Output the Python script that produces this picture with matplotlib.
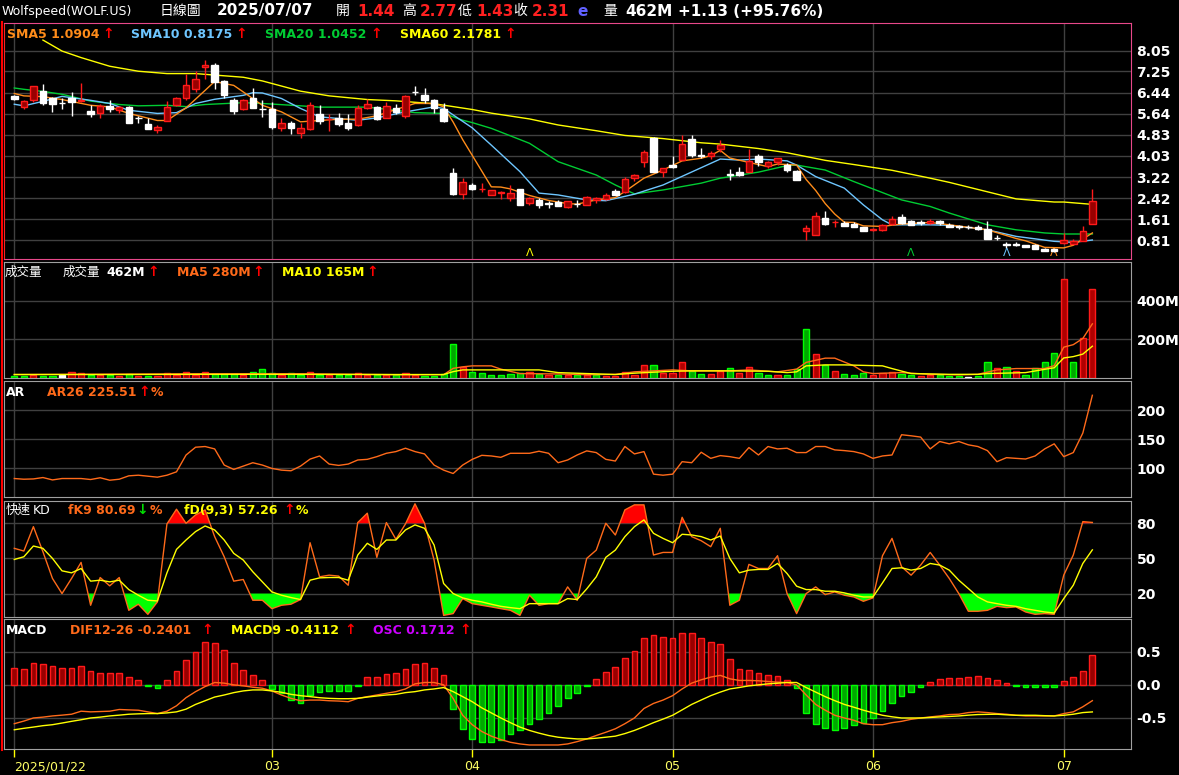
import matplotlib
matplotlib.use("Agg")
import matplotlib.pyplot as plt

plt.rcParams['font.family'] = ['DejaVu Sans', 'Noto Sans CJK TC']

# Daily candles, index 0 = 2025/01/22 ... 113 = 2025/07/07
opens = [6.33, 5.90, 6.17, 6.51, 6.22, 6.04, 6.24, 6.11, 5.76, 5.66,
         5.92, 5.79, 5.90, 5.47, 5.25, 5.03, 5.38, 5.96, 6.23, 6.57,
         7.41, 7.48, 6.87, 6.15, 5.81, 6.22, 5.83, 5.80, 5.09, 5.30,
         4.90, 5.05, 5.63, 5.42, 5.48, 5.27, 5.20, 5.87, 5.90, 5.48,
         5.86, 5.56, 6.48, 6.35, 6.17, 5.83, 3.37, 2.58, 2.92, 2.76,
         2.54, 2.62, 2.42, 2.76, 2.24, 2.35, 2.21, 2.27, 2.09, 2.20,
         2.16, 2.35, 2.39, 2.70, 2.67, 3.20, 3.81, 4.72, 3.41, 3.68,
         3.87, 4.66, 4.05, 4.04, 4.29, 3.31, 3.43, 3.43, 4.01, 3.66,
         3.81, 3.68, 3.47, 1.15, 1.03, 1.66, 1.49, 1.46, 1.43, 1.32,
         1.20, 1.22, 1.44, 1.68, 1.53, 1.48, 1.48, 1.56, 1.40, 1.33,
         1.33, 1.33, 1.23, 0.91, 0.67, 0.65, 0.63, 0.62, 0.49, 0.46,
         0.71, 0.67, 0.80, 1.44]
highs = [6.35, 6.17, 6.70, 6.79, 6.28, 6.22, 6.47, 6.82, 5.99, 6.01,
         6.17, 5.94, 5.94, 5.56, 5.46, 5.20, 6.14, 6.29, 7.15, 7.25,
         7.70, 7.56, 6.91, 6.22, 6.19, 6.62, 6.18, 6.09, 5.48, 5.37,
         5.27, 6.09, 5.96, 5.61, 5.68, 5.61, 5.96, 6.19, 5.92, 6.09,
         6.01, 6.34, 6.70, 6.62, 6.19, 6.04, 3.56, 3.18, 2.99, 2.99,
         2.73, 2.70, 2.91, 2.76, 2.48, 2.42, 2.32, 2.34, 2.32, 2.35,
         2.49, 2.48, 2.63, 2.77, 3.24, 3.33, 4.25, 4.76, 3.58, 4.03,
         4.82, 4.82, 4.34, 4.22, 4.62, 3.52, 3.62, 4.28, 4.09, 3.84,
         3.96, 3.76, 3.49, 1.40, 1.89, 1.92, 1.59, 1.56, 1.49, 1.32,
         1.28, 1.44, 1.72, 1.81, 1.58, 1.59, 1.61, 1.58, 1.47, 1.40,
         1.38, 1.40, 1.53, 1.03, 0.73, 0.73, 0.63, 0.67, 0.52, 0.52,
         1.10, 0.84, 1.34, 2.77]
lows = [6.17, 5.81, 6.09, 5.96, 5.71, 5.81, 5.56, 6.09, 5.52, 5.48,
        5.70, 5.65, 5.27, 5.29, 5.05, 4.89, 5.38, 5.93, 6.18, 6.47,
        6.98, 6.57, 6.22, 5.62, 5.77, 5.84, 5.51, 5.05, 4.97, 4.85,
        4.73, 5.01, 5.23, 4.97, 5.18, 5.01, 5.18, 5.81, 5.39, 5.46,
        5.63, 5.46, 6.34, 6.06, 5.68, 5.33, 2.54, 2.39, 2.73, 2.65,
        2.54, 2.39, 2.32, 2.16, 2.16, 2.04, 2.04, 2.10, 2.06, 2.08,
        2.14, 2.23, 2.35, 2.52, 2.61, 3.08, 3.62, 3.41, 3.24, 3.56,
        3.87, 4.00, 3.94, 3.91, 4.19, 3.11, 3.27, 3.41, 3.66, 3.58,
        3.68, 3.41, 3.11, 0.81, 1.00, 1.40, 1.32, 1.34, 1.32, 1.18,
        1.15, 1.18, 1.40, 1.43, 1.38, 1.38, 1.43, 1.40, 1.30, 1.25,
        1.25, 1.21, 0.85, 0.81, 0.52, 0.58, 0.57, 0.47, 0.39, 0.37,
        0.68, 0.65, 0.77, 1.43]
closes = [6.19, 6.13, 6.70, 6.06, 6.01, 6.03, 6.09, 6.16, 5.62, 5.94,
          5.80, 5.89, 5.30, 5.46, 5.05, 5.14, 5.91, 6.22, 6.73, 6.96,
          7.51, 6.85, 6.34, 5.73, 6.18, 5.87, 5.80, 5.15, 5.29, 5.11,
          5.08, 5.96, 5.38, 5.44, 5.23, 5.08, 5.87, 6.01, 5.43, 5.94,
          5.71, 6.32, 6.46, 6.15, 5.86, 5.38, 2.58, 3.05, 2.77, 2.78,
          2.71, 2.64, 2.61, 2.16, 2.44, 2.16, 2.19, 2.13, 2.29, 2.18,
          2.48, 2.44, 2.52, 2.54, 3.14, 3.30, 4.16, 3.43, 3.56, 3.61,
          4.47, 4.06, 4.03, 4.13, 4.44, 3.30, 3.30, 3.84, 3.81, 3.81,
          3.94, 3.49, 3.11, 1.28, 1.72, 1.44, 1.51, 1.37, 1.32, 1.18,
          1.23, 1.40, 1.61, 1.47, 1.40, 1.47, 1.56, 1.48, 1.33, 1.32,
          1.31, 1.24, 0.87, 0.89, 0.62, 0.64, 0.57, 0.49, 0.42, 0.39,
          0.82, 0.77, 1.18, 2.31]

# moving averages (index, value)
sma5_x = [0, 1, 3, 5, 8, 10, 12, 15, 16, 18, 20, 21, 22, 23, 24, 26, 28, 30, 32, 34,
          36, 38, 40, 42, 44, 45, 46, 47, 48, 49, 50, 51, 52, 54, 56, 58, 59, 61, 63, 64,
          66, 68, 70, 72, 73, 74, 75, 77, 79, 80, 82, 83, 84, 85, 86, 87, 88, 89, 91, 93,
          96, 98, 102, 105, 106, 108, 110, 111, 113]
sma5_y = [6.41, 6.32, 6.29, 6.18, 5.96, 5.90, 5.65, 5.38, 5.38, 5.86, 6.53, 6.87, 6.79, 6.72, 6.47, 5.96, 5.71, 5.33, 5.38, 5.43,
          5.43, 5.56, 5.80, 6.03, 6.03, 5.90, 5.32, 4.65, 4.05, 3.45, 2.85, 2.84, 2.77, 2.52, 2.33, 2.21, 2.19, 2.35, 2.44, 2.67,
          3.18, 3.49, 3.84, 3.94, 4.04, 4.24, 3.95, 3.78, 3.62, 3.72, 3.68, 3.13, 2.71, 2.21, 1.81, 1.50, 1.49, 1.36, 1.34, 1.43,
          1.49, 1.40, 1.21, 0.88, 0.79, 0.54, 0.52, 0.62, 1.09]
sma10_x = [0, 1, 3, 5, 8, 10, 12, 15, 17, 19, 21, 24, 25, 26, 28, 30, 32, 36, 38, 41,
           44, 45, 48, 50, 53, 55, 57, 60, 62, 65, 68, 72, 74, 76, 78, 81, 82, 84, 87, 89,
           91, 92, 96, 98, 102, 105, 109, 111, 113]
sma10_y = [6.00, 5.94, 6.11, 6.30, 6.15, 6.03, 5.77, 5.65, 5.68, 6.03, 6.19, 6.34, 6.44, 6.43, 6.22, 5.84, 5.52, 5.39, 5.48, 5.71,
           5.90, 5.84, 5.10, 4.44, 3.43, 2.61, 2.54, 2.35, 2.32, 2.57, 2.92, 3.58, 3.91, 3.87, 3.91, 3.84, 3.68, 3.24, 2.80, 2.16,
           1.59, 1.40, 1.40, 1.38, 1.21, 0.96, 0.77, 0.73, 0.82]
sma20_x = [0, 1, 3, 5, 8, 11, 13, 16, 18, 20, 24, 26, 30, 32, 37, 39, 42, 45, 47, 48,
           50, 54, 57, 61, 63, 65, 68, 72, 74, 78, 81, 82, 85, 88, 90, 93, 96, 98, 102, 105,
           108, 110, 113]
sma20_y = [6.62, 6.57, 6.49, 6.38, 6.12, 5.99, 5.94, 5.96, 5.91, 5.99, 6.06, 6.03, 5.94, 5.89, 5.89, 5.81, 5.68, 5.65, 5.39, 5.30,
           5.08, 4.51, 3.81, 3.30, 2.92, 2.58, 2.73, 2.99, 3.18, 3.41, 3.66, 3.68, 3.49, 3.05, 2.77, 2.35, 2.10, 1.85, 1.40, 1.21,
           1.09, 1.05, 1.05]
sma60_x = [3, 5, 7, 10, 13, 16, 19, 24, 26, 30, 33, 37, 40, 44, 48, 50, 54, 57, 61, 64,
           68, 72, 74, 78, 81, 85, 88, 92, 96, 98, 102, 105, 109, 110, 113]
sma60_y = [8.45, 8.03, 7.78, 7.45, 7.26, 7.17, 7.17, 7.03, 6.89, 6.50, 6.32, 6.18, 6.13, 6.02, 5.80, 5.66, 5.44, 5.21, 4.99, 4.81,
           4.69, 4.53, 4.48, 4.31, 4.15, 3.86, 3.70, 3.48, 3.18, 3.02, 2.66, 2.39, 2.27, 2.27, 2.18]

# signal marks at the bottom of the price panel
mark_idx = [54, 94, 104, 109]
mark_col = ['#ffff00', '#00cc33', '#6ec6ff', '#ff8c1a']

# volume in millions, r = up, g = down, w = flat
vol_m = [10, 10, 16, 10, 10, 14, 32, 26, 14, 16, 14, 12, 21, 12, 12, 12, 28, 14, 32, 14,
         32, 19, 19, 19, 16, 32, 47, 25, 16, 25, 16, 30, 16, 14, 16, 16, 26, 16, 14, 14,
         14, 26, 16, 12, 12, 23, 179, 58, 32, 26, 16, 16, 21, 26, 32, 19, 16, 16, 16, 14,
         16, 14, 12, 12, 32, 14, 70, 70, 28, 28, 81, 35, 21, 21, 35, 53, 28, 58, 28, 16,
         16, 16, 46, 253, 126, 67, 37, 21, 16, 28, 16, 26, 32, 23, 16, 12, 16, 14, 10, 10,
         7, 12, 81, 53, 58, 37, 16, 53, 81, 132, 516, 84, 210, 462]
vol_dir = ("ggrggwrrgr" "grgrgrrrrr" "rgggrgggrg" "grgrggrrgr" "grrggggrgg"
           "ggggrgrgrg" "rgrrrrrgrr" "rggrrgrrgg" "rgggrgrggg" "rrrggrrggg"
           "wggrgrgggg" "rgrr")
vma5_x = [0, 10, 20, 30, 40, 45, 46, 47, 48, 50, 51, 53, 57, 60, 63, 65, 69, 71, 75, 77,
          80, 82, 83, 85, 86, 88, 89, 90, 93, 96, 99, 101, 103, 105, 108, 109, 110, 111, 112, 113]
vma5_y = [18, 20, 22, 22, 17, 17, 50, 58, 63, 63, 46, 23, 21, 17, 19, 32, 42, 37, 37, 42,
          32, 46, 81, 103, 103, 63, 32, 23, 28, 19, 16, 19, 42, 49, 49, 64, 160, 173, 205, 281]
vma10_x = [0, 10, 20, 30, 40, 45, 46, 47, 55, 57, 60, 63, 65, 69, 71, 75, 79, 81, 82, 83,
           85, 87, 91, 92, 94, 98, 101, 102, 106, 108, 109, 110, 111, 112, 113]
vma10_y = [18, 18, 19, 19, 18, 18, 33, 42, 42, 28, 23, 18, 25, 35, 37, 37, 35, 28, 32, 63,
           68, 68, 63, 49, 23, 19, 19, 23, 28, 45, 53, 104, 111, 124, 165]

ar26 = [82.7, 81.5, 82.0, 84.4, 80.3, 82.7, 82.7, 82.7, 81.0, 84.0,
        79.8, 81.5, 87.3, 88.4, 86.7, 85.0, 88.4, 94.2, 123.0, 136.4,
        137.6, 133.5, 105.8, 98.3, 104.0, 109.8, 105.8, 100.0, 97.1, 96.0,
        104.0, 116.0, 121.4, 107.5, 105.2, 107.5, 114.5, 115.6, 120.2, 126.0,
        128.9, 134.7, 128.9, 124.9, 105.8, 97.1, 91.3, 105.8, 115.6, 122.5,
        121.4, 119.1, 126.0, 126.0, 126.0, 129.5, 126.0, 109.8, 114.5, 123.1,
        130.1, 127.2, 115.6, 112.7, 137.6, 124.9, 128.9, 90.2, 88.4, 90.2,
        111.6, 109.8, 127.8, 117.3, 122.0, 120.2, 117.3, 135.8, 123.1, 137.6,
        133.5, 134.7, 127.2, 127.2, 137.6, 137.6, 131.8, 130.6, 128.9, 124.9,
        117.3, 121.4, 123.1, 157.8, 156.0, 153.8, 133.5, 146.2, 142.2, 146.2,
        140.5, 137.6, 130.6, 111.6, 118.5, 117.3, 116.2, 121.4, 133.5, 142.2,
        120.2, 127.2, 160.7, 225.5]

fk9 = [58.6, 56.3, 77.1, 55.7, 32.9, 20.0, 32.9, 46.6, 10.0, 33.7,
       26.6, 33.7, 5.7, 10.9, 2.3, 12.9, 79.4, 92.0, 80.0, 87.1,
       91.4, 68.6, 51.4, 30.6, 32.0, 14.3, 14.3, 7.1, 10.0, 10.9,
       14.9, 63.4, 34.3, 35.7, 34.9, 27.1, 80.6, 88.6, 50.9, 80.6,
       66.3, 79.4, 96.6, 80.0, 48.6, 1.4, 2.9, 15.7, 11.4, 10.0,
       8.6, 7.1, 5.7, 1.4, 18.6, 10.0, 11.4, 11.4, 25.7, 14.3,
       50.0, 57.1, 80.0, 70.0, 91.4, 95.7, 95.7, 52.9, 55.1, 55.1,
       85.1, 68.6, 65.1, 60.0, 75.7, 10.0, 14.3, 44.9, 41.4, 41.4,
       52.3, 20.0, 2.9, 20.0, 25.7, 19.1, 21.4, 18.6, 17.1, 13.4,
       16.3, 52.3, 67.1, 42.9, 35.7, 44.3, 55.1, 44.3, 32.9, 20.0,
       4.9, 4.9, 5.7, 9.1, 8.0, 8.6, 4.3, 2.3, 2.9, 2.3,
       35.7, 52.9, 81.4, 80.7]
fd93 = [49.1, 51.4, 60.6, 58.6, 50.0, 39.4, 37.7, 41.4, 30.6, 31.4,
        30.0, 31.4, 23.4, 18.6, 14.3, 13.7, 37.7, 57.7, 65.7, 72.9,
        77.7, 74.3, 65.7, 54.3, 48.6, 38.6, 30.0, 21.4, 18.6, 16.6,
        14.9, 31.4, 33.4, 33.7, 33.7, 31.4, 52.9, 62.9, 57.7, 65.7,
        65.7, 74.3, 78.6, 75.7, 61.4, 28.6, 20.0, 16.3, 14.3, 12.9,
        10.9, 9.1, 8.0, 7.1, 11.4, 11.4, 11.4, 11.4, 15.7, 14.9,
        24.0, 34.3, 50.9, 57.1, 68.6, 77.1, 82.9, 71.4, 67.1, 63.4,
        70.6, 70.0, 68.6, 65.7, 69.1, 50.0, 37.7, 40.0, 40.6, 40.6,
        45.7, 37.1, 26.3, 23.4, 23.4, 22.0, 22.0, 20.6, 18.6, 17.1,
        17.1, 29.1, 41.4, 42.0, 40.0, 41.4, 45.7, 44.3, 40.0, 31.4,
        24.3, 17.1, 12.9, 11.4, 10.0, 9.1, 7.1, 5.7, 4.3, 3.4,
        15.7, 27.1, 45.7, 57.3]

dif = [-0.590, -0.550, -0.503, -0.490, -0.472, -0.460, -0.446, -0.400, -0.410, -0.405,
       -0.400, -0.374, -0.380, -0.385, -0.410, -0.436, -0.400, -0.318, -0.195, -0.103,
       -0.026, 0.036, 0.026, 0.000, -0.015, -0.036, -0.051, -0.092, -0.154, -0.205,
       -0.241, -0.231, -0.231, -0.241, -0.246, -0.256, -0.205, -0.179, -0.154, -0.128,
       -0.103, -0.062, 0.015, 0.036, 0.036, 0.000, -0.205, -0.462, -0.605, -0.708,
       -0.779, -0.831, -0.872, -0.897, -0.913, -0.913, -0.913, -0.913, -0.897, -0.862,
       -0.821, -0.769, -0.720, -0.667, -0.590, -0.503, -0.359, -0.282, -0.231, -0.164,
       -0.062, 0.026, 0.077, 0.118, 0.144, 0.092, 0.067, 0.067, 0.062, 0.051,
       0.041, 0.036, 0.000, -0.154, -0.297, -0.385, -0.462, -0.503, -0.538, -0.590,
       -0.605, -0.605, -0.574, -0.554, -0.523, -0.503, -0.487, -0.472, -0.451, -0.446,
       -0.421, -0.410, -0.421, -0.436, -0.446, -0.462, -0.472, -0.472, -0.472, -0.472,
       -0.436, -0.410, -0.333, -0.240]
macd9 = [-0.682, -0.660, -0.641, -0.620, -0.605, -0.580, -0.554, -0.530, -0.503, -0.490,
         -0.472, -0.460, -0.446, -0.440, -0.436, -0.436, -0.426, -0.410, -0.369, -0.297,
         -0.241, -0.185, -0.154, -0.118, -0.092, -0.077, -0.077, -0.092, -0.113, -0.144,
         -0.164, -0.179, -0.195, -0.205, -0.210, -0.210, -0.205, -0.185, -0.169, -0.154,
         -0.144, -0.118, -0.103, -0.077, -0.062, -0.041, -0.103, -0.179, -0.256, -0.349,
         -0.426, -0.503, -0.574, -0.641, -0.692, -0.733, -0.769, -0.795, -0.810, -0.821,
         -0.821, -0.810, -0.795, -0.779, -0.740, -0.692, -0.635, -0.574, -0.520, -0.462,
         -0.380, -0.297, -0.230, -0.164, -0.110, -0.062, -0.040, -0.015, 0.000, 0.015,
         0.025, 0.036, 0.036, -0.041, -0.110, -0.179, -0.240, -0.297, -0.340, -0.385,
         -0.425, -0.462, -0.485, -0.503, -0.503, -0.503, -0.495, -0.487, -0.480, -0.472,
         -0.460, -0.451, -0.448, -0.446, -0.455, -0.462, -0.462, -0.462, -0.468, -0.472,
         -0.462, -0.446, -0.421, -0.411]
osc = [0.256, 0.240, 0.333, 0.318, 0.282, 0.256, 0.256, 0.282, 0.205, 0.179,
       0.179, 0.179, 0.113, 0.072, -0.010, -0.041, 0.072, 0.215, 0.374, 0.503,
       0.651, 0.636, 0.528, 0.328, 0.221, 0.154, 0.072, -0.067, -0.118, -0.236,
       -0.272, -0.154, -0.113, -0.092, -0.087, -0.087, -0.010, 0.113, 0.113, 0.164,
       0.179, 0.241, 0.318, 0.333, 0.256, 0.144, -0.374, -0.667, -0.821, -0.872,
       -0.872, -0.836, -0.744, -0.682, -0.590, -0.513, -0.426, -0.318, -0.205, -0.128,
       -0.015, 0.092, 0.190, 0.267, 0.405, 0.513, 0.708, 0.759, 0.728, 0.708,
       0.790, 0.790, 0.708, 0.651, 0.615, 0.400, 0.246, 0.221, 0.185, 0.154,
       0.138, 0.072, -0.041, -0.426, -0.595, -0.651, -0.687, -0.656, -0.615, -0.585,
       -0.503, -0.395, -0.272, -0.164, -0.103, -0.031, 0.041, 0.087, 0.097, 0.097,
       0.113, 0.128, 0.097, 0.072, 0.021, -0.010, -0.026, -0.036, -0.036, -0.031,
       0.056, 0.113, 0.205, 0.451]

month_idx = [0, 27, 48, 69, 90, 110]
month_lbl = ['2025/01/22', '03', '04', '05', '06', '07']

W, H = 1179, 775
fig = plt.figure(figsize=(W / 100, H / 100), dpi=100, facecolor='black')
XL = (-1.08, 117.05)
GRID = '#404040'
UP_FACE, UP_EDGE = '#990000', '#ff1a1a'
DN_FACE, DN_EDGE = '#00a800', '#00ff00'
CJK = 'Noto Sans CJK TC'


def panel(y0, y1, ylim, ticks, labels, spine='#a0a0a0'):
    ax = fig.add_axes([4 / W, 1 - y1 / H, 1127 / W, (y1 - y0) / H], facecolor='black')
    ax.set_xlim(*XL)
    ax.set_ylim(*ylim)
    ax.set_xticks(month_idx)
    ax.set_yticks(ticks)
    ax.set_yticklabels(labels)
    ax.yaxis.tick_right()
    ax.tick_params(axis='y', length=0, pad=4, labelcolor='white', labelsize=10)
    ax.tick_params(axis='x', length=0, labelbottom=False)
    for lb in ax.get_yticklabels():
        lb.set_fontweight('bold')
    ax.grid(True, color=GRID, lw=1)
    ax.set_axisbelow(True)
    for s in ax.spines.values():
        s.set_color(spine)
    return ax


def ftext(x, y, s, color, size=9, weight='bold', family=None):
    kw = {'family': family} if family else {}
    fig.text(x / W, 1 - y / H, s, color=color, fontsize=size, fontweight=weight,
             ha='left', va='center', **kw)


def arrow(x, y, up=True):
    ftext(x, y, '↑' if up else '↓', '#ff0000' if up else '#00e000', 10)


idx = list(range(len(closes)))

# ---- price panel ----
ax = panel(23, 259, (0.096, 9.10),
           [0.81, 1.61, 2.42, 3.22, 4.03, 4.83, 5.64, 6.44, 7.25, 8.05],
           ['0.81', '1.61', '2.42', '3.22', '4.03', '4.83', '5.64', '6.44', '7.25', '8.05'],
           spine='#e8488a')
ax.spines['left'].set_color('#ff2020')
ax.plot(sma60_x, sma60_y, color='#ffff00', lw=1)
ax.plot(sma20_x, sma20_y, color='#00cc33', lw=1)
ax.plot(sma10_x, sma10_y, color='#6ec6ff', lw=1)
ax.plot(sma5_x, sma5_y, color='#ff8c1a', lw=1)
for i in idx:
    o, h, l, c = opens[i], highs[i], lows[i], closes[i]
    up = c > o
    ax.vlines(i, l, h, color='#ff1a1a' if up else 'white', lw=1, zorder=3)
    ax.bar(i, max(abs(c - o), 0.025), bottom=min(o, c), width=0.68,
           color=UP_FACE if up else 'white', edgecolor=UP_EDGE if up else 'white',
           lw=1, zorder=4)
for i, col in zip(mark_idx, mark_col):
    ax.text(i, 0.12, 'Λ', color=col, fontsize=8, ha='center', va='bottom')

ftext(7, 34, 'SMA5 1.0904', '#ff8c1a')
arrow(102, 34)
ftext(131, 34, 'SMA10 0.8175', '#6ec6ff')
arrow(235, 34)
ftext(265, 34, 'SMA20 1.0452', '#00cc33')
arrow(370, 34)
ftext(400, 34, 'SMA60 2.1781', '#ffff00')
arrow(504, 34)

# ---- volume panel ----
axv = panel(262, 378, (0, 602), [200, 400], ['200M', '400M'])
face = {'r': '#b00000', 'g': DN_FACE, 'w': 'white'}
edge = {'r': '#ff1a1a', 'g': DN_EDGE, 'w': 'white'}
axv.bar(idx, vol_m, width=0.65, color=[face[d] for d in vol_dir],
        edgecolor=[edge[d] for d in vol_dir], lw=1, zorder=3)
axv.plot(vma5_x, vma5_y, color='#ff6a1a', lw=1, zorder=4)
axv.plot(vma10_x, vma10_y, color='#ffff00', lw=1, zorder=4)
ftext(5, 272, '成交量', 'white', 9, 'normal', CJK)
ftext(63, 272, '成交量', 'white', 9, 'normal', CJK)
ftext(106, 272, '462M', 'white')
arrow(147, 272)
ftext(177, 272, 'MA5 280M', '#ff6a1a')
arrow(252, 272)
ftext(282, 272, 'MA10 165M', '#ffff00')
arrow(366, 272)

# ---- AR ----
axa = panel(381, 497, (51, 250), [100, 150, 200], ['100', '150', '200'])
axa.plot(idx, ar26, color='#ff6a1a', lw=1)
ftext(6, 392, 'AR', 'white')
ftext(47, 392, 'AR26 225.51', '#ff6a1a')
arrow(138, 392)
ftext(151, 392, '%', '#ff6a1a')

# ---- KD ----
axk = panel(501, 617, (0, 99), [20, 50, 80], ['20', '50', '80'])
axk.fill_between(idx, fk9, 80, where=[k >= 80 for k in fk9], interpolate=True,
                 color='#ff0000', lw=0, zorder=2)
axk.fill_between(idx, fk9, 20, where=[k <= 20 for k in fk9], interpolate=True,
                 color='#00ff00', lw=0, zorder=2)
axk.plot(idx, fk9, color='#ff6a1a', lw=1, zorder=3)
axk.plot(idx, fd93, color='#ffff00', lw=1, zorder=3)
ftext(6, 510, '快速', 'white', 9, 'normal', CJK)
ftext(33, 510, 'KD', 'white', 9, 'normal')
ftext(68, 510, 'fK9 80.69', '#ff6a1a')
arrow(136, 510, up=False)
ftext(150, 510, '%', '#ff6a1a')
ftext(184, 510, 'fD(9,3) 57.26', '#ffff00')
arrow(283, 510)
ftext(296, 510, '%', '#ffff00')

# ---- MACD ----
axm = panel(619, 749, (-0.974, 1.0), [-0.5, 0.0, 0.5], ['-0.5', '0.0', '0.5'])
axm.bar(idx, osc, width=0.6, color=[UP_FACE if v > 0 else DN_FACE for v in osc],
        edgecolor=[UP_EDGE if v > 0 else DN_EDGE for v in osc], lw=1, zorder=3)
axm.plot(idx, dif, color='#ff6a1a', lw=1, zorder=4)
axm.plot(idx, macd9, color='#ffff00', lw=1, zorder=4)
axm.set_xticklabels(month_lbl)
axm.tick_params(axis='x', length=6, width=1, color='#ffff00', direction='out',
                labelbottom=True, labelcolor='#ffff66', labelsize=9, pad=2)
axm.get_xticklabels()[0].set_ha('left')
ftext(6, 630, 'MACD', 'white')
ftext(70, 630, 'DIF12-26 -0.2401', '#ff6a1a')
arrow(201, 630)
ftext(231, 630, 'MACD9 -0.4112', '#ffff00')
arrow(344, 630)
ftext(373, 630, 'OSC 0.1712', '#cc00ff')
arrow(459, 630)

# left red edge line
fig.add_artist(plt.Line2D([1.5 / W, 1.5 / W], [1 - 22 / H, 1 - 750 / H],
                          color='#ff0000', lw=1.5))

# ---- header ----
ftext(2, 11, 'Wolfspeed(WOLF.US)', 'white', 9, 'normal')
ftext(160, 11, '日線圖', 'white', 10, 'normal', CJK)
ftext(217, 11, '2025/07/07', 'white', 11)
ftext(336, 11, '開', 'white', 10, 'normal', CJK)
ftext(357, 11, '1.44', '#ff2020', 11)
ftext(402, 11, '高', 'white', 10, 'normal', CJK)
ftext(420, 11, '2.77', '#ff2020', 11)
ftext(458, 11, '低', 'white', 10, 'normal', CJK)
ftext(476, 11, '1.43', '#ff2020', 11)
ftext(513, 11, '收', 'white', 10, 'normal', CJK)
ftext(532, 11, '2.31', '#ff2020', 11)
ftext(577, 11, 'e', '#6060ff', 11)
ftext(603, 11, '量', 'white', 10, 'normal', CJK)
ftext(625, 11, '462M', 'white', 11)
ftext(678, 11, '+1.13 (+95.76%)', 'white', 11)

fig.savefig('out.png', dpi=100, facecolor='black')
